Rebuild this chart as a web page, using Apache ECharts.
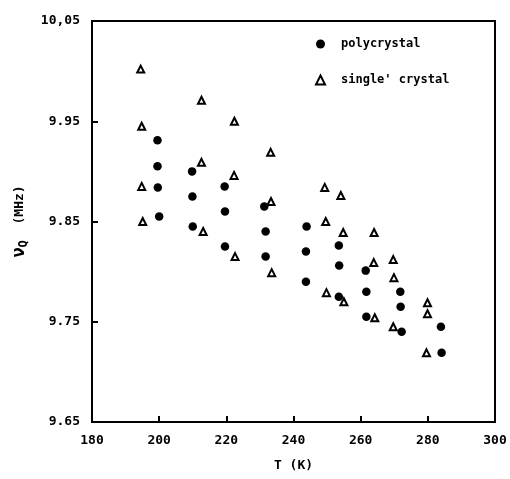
<!DOCTYPE html>
<html>
<head>
<meta charset="utf-8">
<script src="https://cdn.jsdelivr.net/npm/echarts@6/dist/echarts.min.js"></script>
<style>html,body{margin:0;padding:0;background:#fff;}#c{width:510px;height:479px;}</style>
</head>
<body>
<div id="c"></div>
<script>
var polycrystal = [
  [199.5, 9.931], [199.5, 9.905], [199.6, 9.884], [200.0, 9.855],
  [209.8, 9.900], [209.9, 9.875], [210.0, 9.845],
  [219.5, 9.885], [219.6, 9.860], [219.6, 9.825],
  [231.3, 9.865], [231.7, 9.840], [231.7, 9.815],
  [243.9, 9.845], [243.7, 9.820], [243.7, 9.790],
  [253.5, 9.826], [253.6, 9.806], [253.5, 9.775],
  [261.5, 9.801], [261.7, 9.780], [261.7, 9.755],
  [271.8, 9.780], [271.9, 9.765], [272.2, 9.740],
  [283.9, 9.745], [284.1, 9.719]
];
var singleCrystal = [
  [194.5, 10.002], [194.8, 9.945], [194.8, 9.885], [195.1, 9.850],
  [212.6, 9.971], [212.6, 9.909], [213.1, 9.840],
  [222.4, 9.950], [222.3, 9.896], [222.6, 9.815],
  [233.2, 9.919], [233.3, 9.870], [233.5, 9.799],
  [249.3, 9.884], [249.6, 9.850], [249.8, 9.779],
  [254.1, 9.876], [254.8, 9.839], [255.0, 9.770],
  [264.0, 9.839], [263.9, 9.809], [264.2, 9.754],
  [269.7, 9.812], [269.9, 9.794], [269.7, 9.745],
  [279.9, 9.769], [279.9, 9.758], [279.6, 9.719]
];
var yTicks = [9.65, 9.75, 9.85, 9.95, 10.05];
var yTickLabels = ['9.65', '9.75', '9.85', '9.95', '10,05'];
var seriesNames = ['polycrystal', "single' crystal"];

var font = 'DejaVu Sans Mono';
var chart = echarts.init(document.getElementById('c'));
chart.setOption({
  animation: false,
  backgroundColor: '#fff',
  grid: {left: 92, right: 15, top: 21, bottom: 57, show: true, borderColor: '#000', borderWidth: 2, backgroundColor: 'transparent'},
  legend: {
    orient: 'vertical', left: 310, top: 33, itemWidth: 9, itemHeight: 9, itemGap: 24,
    textStyle: {fontFamily: font, fontWeight: 'bold', fontSize: 12, color: '#000', padding: [0, 0, 0, 11]},
    data: [
      {name: seriesNames[0], icon: 'circle', itemStyle: {color: '#000'}},
      {name: seriesNames[1], icon: 'triangle', itemStyle: {color: '#fff', borderColor: '#000', borderWidth: 2}}
    ]
  },
  xAxis: {
    type: 'value', min: 180, max: 300, interval: 20,
    name: 'T (K)', nameLocation: 'middle', nameGap: 37,
    nameTextStyle: {fontFamily: font, fontWeight: 'bold', fontSize: 13, color: '#000'},
    axisLine: {lineStyle: {color: '#000', width: 2}},
    axisTick: {inside: true, length: 6, lineStyle: {color: '#000', width: 2}},
    axisLabel: {margin: 12, fontFamily: font, fontWeight: 'bold', fontSize: 13, color: '#000'},
    splitLine: {show: false}
  },
  yAxis: {
    type: 'value', min: 9.65, max: 10.05,
    name: '{n|ν}{s|Q}  (MHz)', nameLocation: 'middle', nameGap: 55, nameRotate: 90,
    nameTextStyle: {
      fontFamily: font, fontWeight: 'bold', fontSize: 13, color: '#000',
      rich: {
        n: {fontFamily: font, fontWeight: 'bold', fontSize: 17, color: '#000'},
        s: {fontFamily: font, fontWeight: 'bold', fontSize: 12, color: '#000', verticalAlign: 'bottom', padding: [8, 0, 0, 0]}
      }
    },
    axisLine: {lineStyle: {color: '#000', width: 2}},
    axisTick: {inside: true, length: 6, lineStyle: {color: '#000', width: 2}, customValues: yTicks},
    axisLabel: {
      margin: 12, fontFamily: font, fontWeight: 'bold', fontSize: 13, color: '#000',
      customValues: yTicks,
      formatter: function (v) {
        for (var i = 0; i < yTicks.length; i++) { if (Math.abs(yTicks[i] - v) < 1e-6) return yTickLabels[i]; }
        return '';
      }
    },
    splitLine: {show: false}
  },
  series: [
    {name: seriesNames[0], type: 'scatter', data: polycrystal, symbol: 'circle', symbolSize: 8.5, itemStyle: {color: '#000', opacity: 1}},
    {name: seriesNames[1], type: 'scatter', data: singleCrystal, symbol: 'triangle', symbolSize: 7, itemStyle: {color: '#fff', borderColor: '#000', borderWidth: 2, opacity: 1}}
  ]
});
</script>
</body>
</html>
